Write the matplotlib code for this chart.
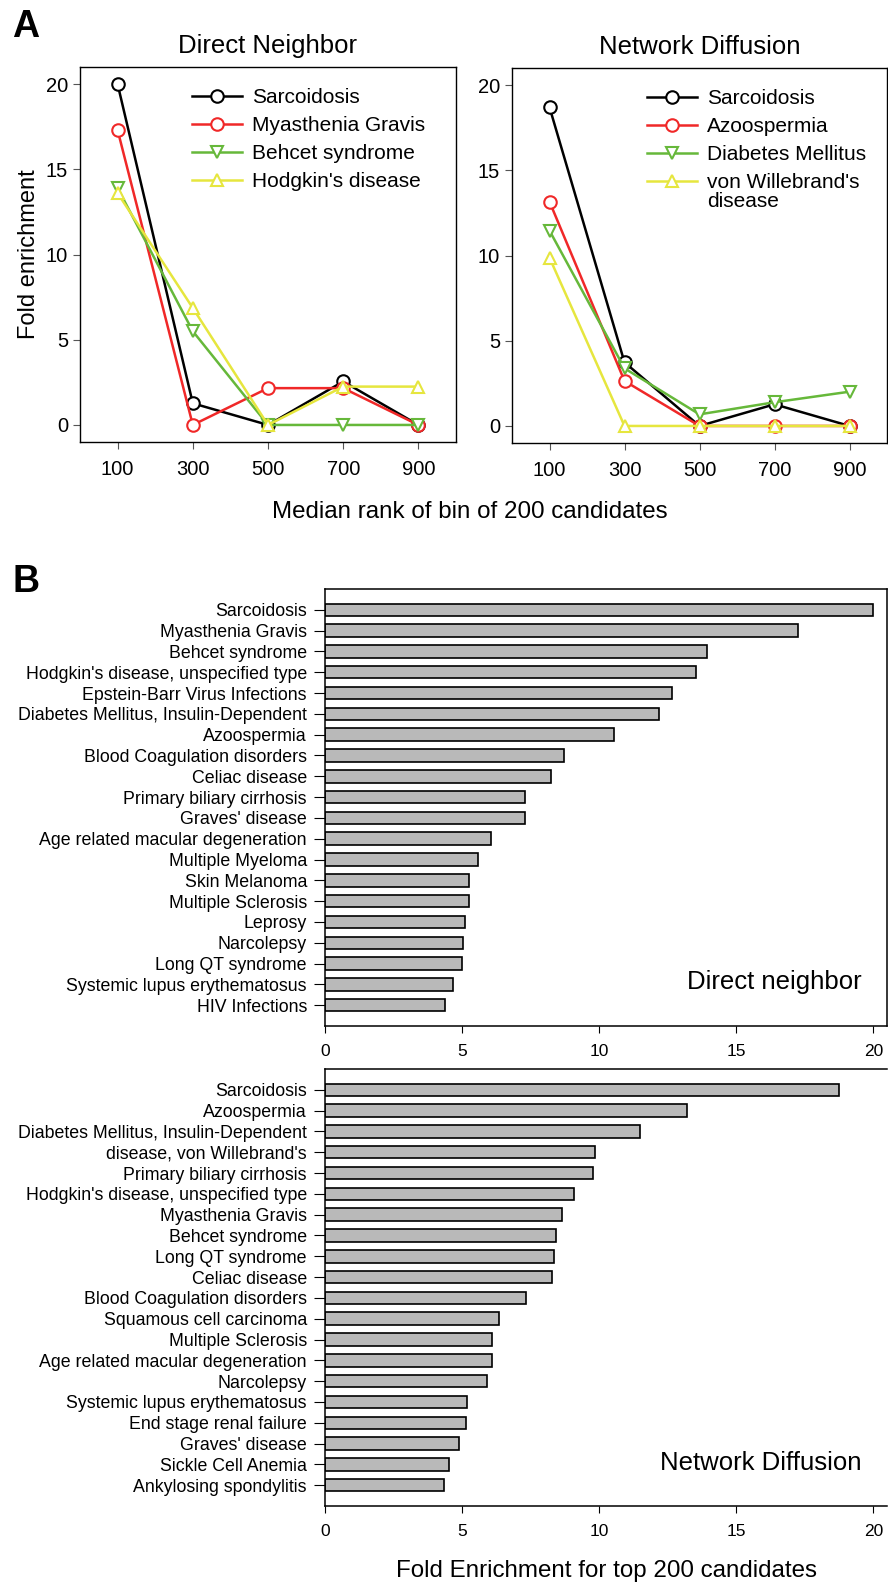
import numpy as np
import matplotlib
matplotlib.use("Agg")
import matplotlib.pyplot as plt

plt.rcParams['font.family'] = ['Liberation Sans', 'DejaVu Sans']

# ---- panel A data: fold enrichment per bin ----
bins = [100, 300, 500, 700, 900]

dn_names = ["Sarcoidosis", "Myasthenia Gravis", "Behcet syndrome", "Hodgkin's disease"]
dn_sarcoidosis = [20.0, 1.27, 0.0, 2.55, 0.0]
dn_myasthenia = [17.3, 0.0, 2.16, 2.16, 0.0]
dn_behcet = [13.9, 5.5, 0.0, 0.0, 0.0]
dn_hodgkin = [13.6, 6.86, 0.0, 2.25, 2.25]

nd_names = ["Sarcoidosis", "Azoospermia", "Diabetes Mellitus", "von Willebrand's"]
nd_sarcoidosis = [18.7, 3.73, 0.0, 1.27, 0.0]
nd_azoospermia = [13.16, 2.64, 0.0, 0.0, 0.0]
nd_diabetes = [11.46, 3.38, 0.68, 1.39, 2.01]
nd_vwd = [9.87, 0.0, 0.0, 0.0, 0.0]

# ---- panel B data: top 200 candidates ----
dn_diseases = ["Sarcoidosis", "Myasthenia Gravis", "Behcet syndrome",
               "Hodgkin's disease, unspecified type", "Epstein-Barr Virus Infections",
               "Diabetes Mellitus, Insulin-Dependent", "Azoospermia",
               "Blood Coagulation disorders", "Celiac disease", "Primary biliary cirrhosis",
               "Graves' disease", "Age related macular degeneration", "Multiple Myeloma",
               "Skin Melanoma", "Multiple Sclerosis", "Leprosy", "Narcolepsy",
               "Long QT syndrome", "Systemic lupus erythematosus", "HIV Infections"]
dn_fold = [20.0, 17.25, 13.94, 13.55, 12.64, 12.18, 10.53, 8.73, 8.24, 7.29,
           7.29, 6.05, 5.57, 5.26, 5.24, 5.12, 5.03, 4.99, 4.68, 4.39]

nd_diseases = ["Sarcoidosis", "Azoospermia", "Diabetes Mellitus, Insulin-Dependent",
               "disease, von Willebrand's", "Primary biliary cirrhosis",
               "Hodgkin's disease, unspecified type", "Myasthenia Gravis", "Behcet syndrome",
               "Long QT syndrome", "Celiac disease", "Blood Coagulation disorders",
               "Squamous cell carcinoma", "Multiple Sclerosis",
               "Age related macular degeneration", "Narcolepsy",
               "Systemic lupus erythematosus", "End stage renal failure", "Graves' disease",
               "Sickle Cell Anemia", "Ankylosing spondylitis"]
nd_fold = [18.75, 13.2, 11.5, 9.85, 9.78, 9.07, 8.66, 8.41, 8.37, 8.28,
           7.33, 6.35, 6.08, 6.08, 5.9, 5.19, 5.15, 4.88, 4.53, 4.34]

colors = ['black', '#f02828', '#66b83a', '#e6e63e']
markers = ['o', 'o', 'v', '^']

W, H = 888, 1588
fig = plt.figure(figsize=(W / 100, H / 100), dpi=100)


def px_axes(x0, y0, x1, y1):
    # pixel box (from top-left) -> figure axes
    return fig.add_axes([x0 / W, 1 - y1 / H, (x1 - x0) / W, (y1 - y0) / H])


def line_panel(ax, series, names, title, leg_x):
    for vals, name, c, m in zip(series, names, colors, markers):
        ax.plot(bins, vals, color=c, lw=1.8, marker=m, ms=9, mfc='white',
                mec=c, mew=1.5, label=name)
    ax.set_xlim(0, 1000)
    ax.set_ylim(-1, 21)
    ax.set_xticks(bins)
    ax.set_yticks([0, 5, 10, 15, 20])
    ax.tick_params(direction='out', length=5, labelsize=14.5, color='#555555')
    ax.tick_params(axis='x', pad=8)
    for s in ax.spines.values():
        s.set_linewidth(1.0)
    ax.set_title(title, fontsize=18.5, pad=10)
    return ax.legend(loc='upper left', bbox_to_anchor=(leg_x, 0.944), frameon=False,
                     fontsize=15, handlelength=2.4, handletextpad=0.5, labelspacing=0.43,
                     borderpad=0, borderaxespad=0)


ax1 = px_axes(80, 67, 456, 442)
line_panel(ax1, [dn_sarcoidosis, dn_myasthenia, dn_behcet, dn_hodgkin], dn_names,
           "Direct Neighbor", 0.298)
ax1.set_ylabel("Fold enrichment", fontsize=17, labelpad=4)

ax2 = px_axes(512, 68, 887, 443)
leg2 = line_panel(ax2, [nd_sarcoidosis, nd_azoospermia, nd_diabetes, nd_vwd], nd_names,
                  "Network Diffusion", 0.359)

# second line of the last legend entry, under "von Willebrand's"
fig.canvas.draw()
bb = leg2.get_texts()[3].get_window_extent(fig.canvas.get_renderer())
fig.text(bb.x0 / W, (bb.y0 - 19.5) / H, "disease", fontsize=15, ha='left', va='bottom')

fig.text(470 / W, 1 - 512 / H, "Median rank of bin of 200 candidates",
         fontsize=17.4, ha='center', va='center')


def bar_panel(ax, names, vals, label, ty):
    y = np.arange(len(names))
    ax.barh(y, vals, height=0.6, color='#b9b9b9', edgecolor='black', linewidth=1.2)
    ax.set_yticks(y)
    ax.set_yticklabels(names, fontsize=12.8)
    ax.set_ylim(len(names), -1)
    ax.set_xlim(0, 20.5)
    ax.set_xticks([0, 5, 10, 15, 20])
    ax.tick_params(axis='y', direction='out', length=8, pad=5)
    ax.tick_params(axis='x', direction='out', length=5, labelsize=12.5, pad=8)
    for s in ax.spines.values():
        s.set_linewidth(1.1)
    ax.text(0.955, ty, label, transform=ax.transAxes, fontsize=18.5,
            ha='right', va='center')


ax3 = px_axes(325, 589, 887, 1026)
bar_panel(ax3, dn_diseases, dn_fold, "Direct neighbor", 0.101)

ax4 = px_axes(325, 1069, 887, 1506)
bar_panel(ax4, nd_diseases, nd_fold, "Network Diffusion", 0.098)
ax4.spines['right'].set_visible(False)
fig.text(606 / W, 1 - 1571 / H, "Fold Enrichment for top 200 candidates",
         fontsize=17.4, ha='center', va='center')

fig.text(12 / W, 1 - 37 / H, "A", fontsize=27, fontweight='bold', va='baseline')
fig.text(12 / W, 1 - 592 / H, "B", fontsize=27, fontweight='bold', va='baseline')

fig.savefig("out.png", dpi=100)
